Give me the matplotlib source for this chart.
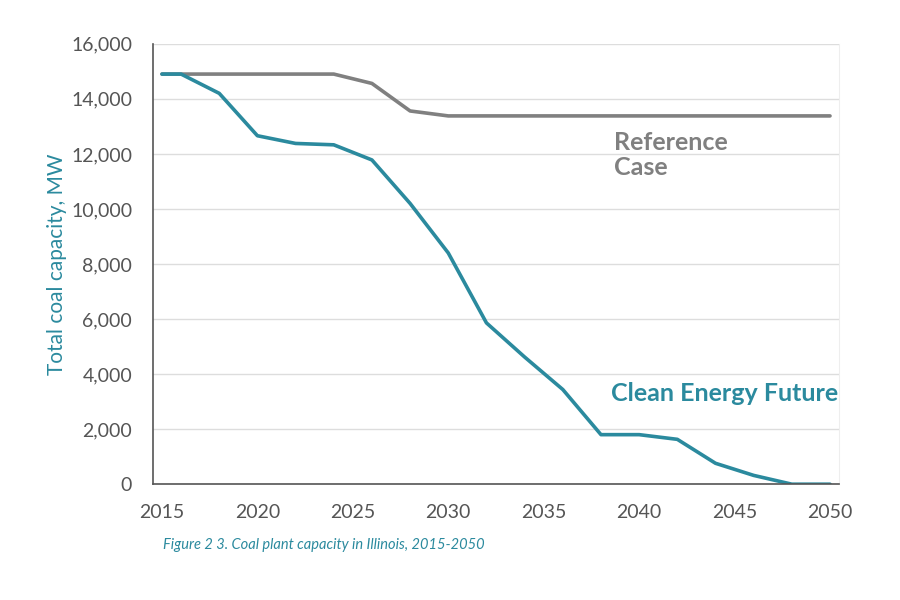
import matplotlib
matplotlib.use("Agg")
import matplotlib.pyplot as plt

years = [2015, 2016, 2018, 2020, 2022, 2024, 2026, 2028, 2030, 2032, 2034,
         2036, 2038, 2040, 2042, 2044, 2046, 2048, 2050]
reference_case = [14900, 14900, 14900, 14900, 14900, 14900, 14560, 13560, 13380,
                  13380, 13380, 13380, 13380, 13380, 13380, 13380, 13380, 13380, 13380]
clean_energy = [14900, 14900, 14200, 12660, 12380, 12330, 11780, 10200, 8400,
                5860, 4620, 3440, 1800, 1800, 1630, 760, 320, 0, 0]
y_ticks = [0, 2000, 4000, 6000, 8000, 10000, 12000, 14000, 16000]
x_ticks = [2015, 2020, 2025, 2030, 2035, 2040, 2045, 2050]

TEAL = "#2b8a9e"
GRAY = "#808080"
TICK = "#555555"

plt.rcParams['font.family'] = ['Lato', 'DejaVu Sans']

fig = plt.figure(figsize=(9, 6), dpi=100)
ax = fig.add_axes([0.17, 0.193, 0.762, 0.734])

ax.plot(years, reference_case, color=GRAY, lw=2.6, solid_capstyle='round', solid_joinstyle='round')
ax.plot(years, clean_energy, color=TEAL, lw=2.6, solid_capstyle='round', solid_joinstyle='round')

ax.set_xlim(2014.53, 2050.46)
ax.set_ylim(0, 16000)
ax.set_yticks(y_ticks)
ax.set_yticklabels([f"{v:,}" for v in y_ticks])
ax.set_xticks(x_ticks)
ax.set_xticklabels([str(v) for v in x_ticks])
ax.tick_params(axis='y', length=0, pad=15, labelsize=14, labelcolor=TICK)
ax.tick_params(axis='x', length=0, pad=14, labelsize=14, labelcolor=TICK)

ax.grid(axis='y', color='#dddddd', lw=1.0)
ax.set_axisbelow(True)
ax.spines['top'].set_visible(False)
ax.spines['right'].set_color('#eeeeee')
ax.spines['left'].set_color('#555555')
ax.spines['bottom'].set_color('#555555')
ax.spines['left'].set_linewidth(1.2)
ax.spines['bottom'].set_linewidth(1.2)

ax.set_ylabel("Total coal capacity, MW", color=TEAL, fontsize=15, labelpad=3)

ax.text(2038.7, 11950, "Reference\nCase", color=GRAY, fontsize=18, fontweight='bold',
        va='center', ha='left', linespacing=1.1)
ax.text(2038.5, 3300, "Clean Energy Future", color=TEAL, fontsize=18, fontweight='bold',
        va='center', ha='left')

fig.text(163/900, 1 - 545/600, "Figure 2 3. Coal plant capacity in Illinois, 2015-2050",
         color=TEAL, fontsize=10.5, style='italic', va='center', ha='left')

fig.savefig("out.png", dpi=100, facecolor='white')
